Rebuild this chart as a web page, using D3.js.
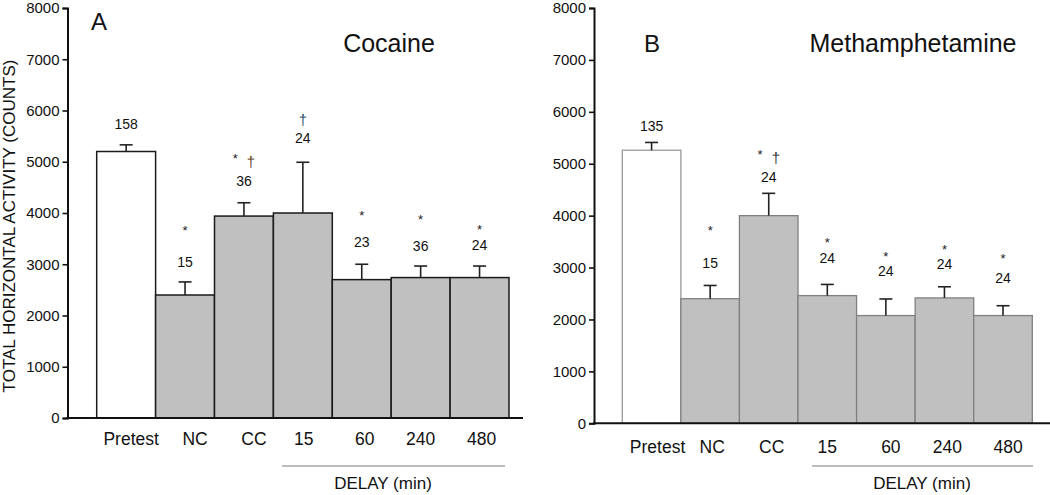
<!DOCTYPE html>
<html>
<head>
<meta charset="utf-8">
<script src="https://cdn.jsdelivr.net/npm/d3@7"></script>
<style>
  body { margin: 0; background: #fff; }
  svg { font-family: "Liberation Sans", Arial, sans-serif; }
</style>
</head>
<body>
<svg width="1050" height="495"></svg>
<script>
// data
const categories = ['Pretest', 'NC', 'CC', '15', '60', '240', '480'];
const yTicks = [0, 1000, 2000, 3000, 4000, 5000, 6000, 7000, 8000];

const cocaineMean = [5200, 2400, 3940, 4000, 2700, 2740, 2740];
const cocaineSem = [130, 255, 260, 990, 300, 225, 225];
const cocaineN = ['158', '15', '36', '24', '23', '36', '24'];
const cocaineStar = ['', '*', '*', '', '*', '*', '*'];
const cocaineDagger = ['', '', '†', '†', '', '', ''];

const methMean = [5260, 2400, 4000, 2460, 2075, 2415, 2075];
const methSem = [150, 255, 430, 215, 320, 215, 190];
const methN = ['135', '15', '24', '24', '24', '24', '24'];
const methStar = ['', '*', '*', '*', '*', '*', '*'];
const methDagger = ['', '', '†', '', '', '', ''];

const svg = d3.select('svg');

// y axis title (shared, left side)
svg.append('text')
  .attr('transform', 'translate(15,226) rotate(-90)')
  .attr('text-anchor', 'middle')
  .style('font-size', '17px')
  .attr('fill', '#111')
  .text('TOTAL HORIZONTAL ACTIVITY (COUNTS)');

function drawPanel(p) {
  const x = d3.scaleBand()
    .domain(categories)
    .range([p.barStart, p.barEnd])
    .paddingInner(0);
  const y = d3.scaleLinear()
    .domain([0, 8000])
    .range([p.y0, p.y8000]);

  const g = svg.append('g');

  // bars
  g.selectAll('rect')
    .data(categories)
    .enter()
    .append('rect')
    .attr('x', d => x(d))
    .attr('y', (d, i) => y(p.mean[i]))
    .attr('width', x.bandwidth())
    .attr('height', (d, i) => y(0) - y(p.mean[i]))
    .attr('fill', (d, i) => i == 0 ? '#fff' : '#c0c0c0')
    .attr('stroke', (d, i) => i == 0 ? p.pretestStroke : p.barStroke)
    .attr('stroke-width', p.barStrokeWidth);

  // error bars
  const eb = g.append('g')
    .selectAll('g')
    .data(categories)
    .enter()
    .append('g')
    .attr('stroke', '#222')
    .attr('stroke-width', 1.6);
  eb.append('line')
    .attr('x1', d => x(d) + x.bandwidth() / 2)
    .attr('x2', d => x(d) + x.bandwidth() / 2)
    .attr('y1', (d, i) => y(p.mean[i]))
    .attr('y2', (d, i) => y(p.mean[i] + p.sem[i]));
  eb.append('line')
    .attr('x1', d => x(d) + x.bandwidth() / 2 - 6.5)
    .attr('x2', d => x(d) + x.bandwidth() / 2 + 6.5)
    .attr('y1', (d, i) => y(p.mean[i] + p.sem[i]))
    .attr('y2', (d, i) => y(p.mean[i] + p.sem[i]));

  // n labels
  const nY = i => y(p.mean[i] + p.sem[i]) - p.nLift[i] + 5;
  g.append('g')
    .selectAll('text')
    .data(categories)
    .enter()
    .append('text')
    .attr('x', d => x(d) + x.bandwidth() / 2)
    .attr('y', (d, i) => nY(i))
    .attr('text-anchor', 'middle')
    .style('font-size', '14px')
    .attr('fill', '#111')
    .text((d, i) => p.n[i]);

  // significance marks
  const marks = g.append('g')
    .selectAll('text')
    .data(categories)
    .enter()
    .append('text')
    .attr('x', d => x(d) + x.bandwidth() / 2)
    .attr('y', (d, i) => nY(i) - 5 - p.markLift[i] + 7)
    .attr('text-anchor', 'middle')
    .style('font-size', '13px')
    .style('white-space', 'pre')
    .attr('fill', '#222');
  marks.append('tspan')
    .text((d, i) => p.star[i] + (p.star[i] && p.dagger[i] ? '\u2002\u2009' : ''));
  marks.append('tspan')
    .attr('fill', (d, i) => p.daggerColor[i])
    .attr('dy', (d, i) => p.dagger[i] ? 4 : 0)
    .style('font-size', '15px')
    .text((d, i) => p.dagger[i]);

  // y axis
  const yAxis = d3.axisLeft(y)
    .tickValues(yTicks)
    .tickSize(5)
    .tickPadding(3)
    .tickFormat(d3.format('d'));
  const ya = g.append('g')
    .attr('transform', `translate(${p.axisX},0)`)
    .call(yAxis);
  ya.select('.domain').attr('stroke', '#111').attr('stroke-width', 2);
  ya.selectAll('.tick line').attr('stroke', '#111').attr('stroke-width', 1.6);
  ya.selectAll('.tick text')
    .style('font-size', '15px')
    .style('font-family', '"Liberation Sans", Arial, sans-serif')
    .attr('fill', '#111');

  // x baseline
  g.append('line')
    .attr('x1', p.axisX - 1)
    .attr('x2', p.axisEnd)
    .attr('y1', y(0))
    .attr('y2', y(0))
    .attr('stroke', '#111')
    .attr('stroke-width', 2);

  // x labels
  const xAxis = d3.axisBottom(x).tickSize(0).tickPadding(0);
  const xa = g.append('g')
    .attr('transform', `translate(0,${y(0)})`)
    .call(xAxis);
  xa.select('.domain').remove();
  xa.selectAll('.tick text')
    .attr('y', p.labelY - y(0))
    .attr('dy', 0)
    .attr('dx', (d, i) => p.labelShift[i])
    .style('font-size', '17.5px')
    .style('font-family', '"Liberation Sans", Arial, sans-serif')
    .attr('fill', '#111');

  // delay bracket
  g.append('line')
    .attr('x1', p.delayLine[0])
    .attr('x2', p.delayLine[1])
    .attr('y1', 466)
    .attr('y2', 466)
    .attr('stroke', '#bdbdbd')
    .attr('stroke-width', 2);
  g.append('text')
    .attr('x', p.delayX)
    .attr('y', 489)
    .attr('text-anchor', 'middle')
    .style('font-size', '17px')
    .attr('fill', '#111')
    .text('DELAY (min)');

  // panel letter and title
  g.append('text')
    .attr('x', p.letterX)
    .attr('y', p.letterY)
    .attr('text-anchor', 'middle')
    .style('font-size', '24px')
    .attr('fill', '#111')
    .text(p.letter);
  g.append('text')
    .attr('x', p.titleX)
    .attr('y', 52)
    .attr('text-anchor', 'middle')
    .style('font-size', '25px')
    .attr('fill', '#111')
    .text(p.title);
}

drawPanel({
  mean: cocaineMean, sem: cocaineSem, n: cocaineN,
  star: cocaineStar, dagger: cocaineDagger,
  daggerColor: ['#222', '#222', '#5e3d1e', '#2c4e6e', '#222', '#222', '#222'],
  nLift: [20.5, 20, 21.5, 24, 22.5, 20, 21.5],
  markLift: [0, 34, 25, 24, 29, 29, 18],
  labelShift: [5, 10, 10, 1, 3, 0, 2],
  barStart: 96.7, barEnd: 509, axisX: 67.5, axisEnd: 523,
  y0: 418, y8000: 8,
  barStroke: '#1a1a1a', pretestStroke: '#1a1a1a', barStrokeWidth: 1.5,
  labelY: 445,
  delayLine: [282, 505], delayX: 383,
  letter: 'A', letterX: 99, letterY: 30,
  title: 'Cocaine', titleX: 389
});

drawPanel({
  mean: methMean, sem: methSem, n: methN,
  star: methStar, dagger: methDagger,
  daggerColor: ['#222', '#222', '#333', '#222', '#222', '#222', '#222'],
  nLift: [16, 22.7, 16.3, 26, 27.6, 22.7, 27.3],
  markLift: [0, 35, 25, 18, 17, 17, 22],
  labelShift: [6, 2, 3, 0, 5, 3, 5],
  barStart: 622.3, barEnd: 1032.3, axisX: 594, axisEnd: 1050,
  y0: 423.3, y8000: 8,
  barStroke: '#808080', pretestStroke: '#9a9a9a', barStrokeWidth: 1.3,
  labelY: 453,
  delayLine: [812, 1033], delayX: 922,
  letter: 'B', letterX: 652, letterY: 52,
  title: 'Methamphetamine', titleX: 913
});
</script>
</body>
</html>
